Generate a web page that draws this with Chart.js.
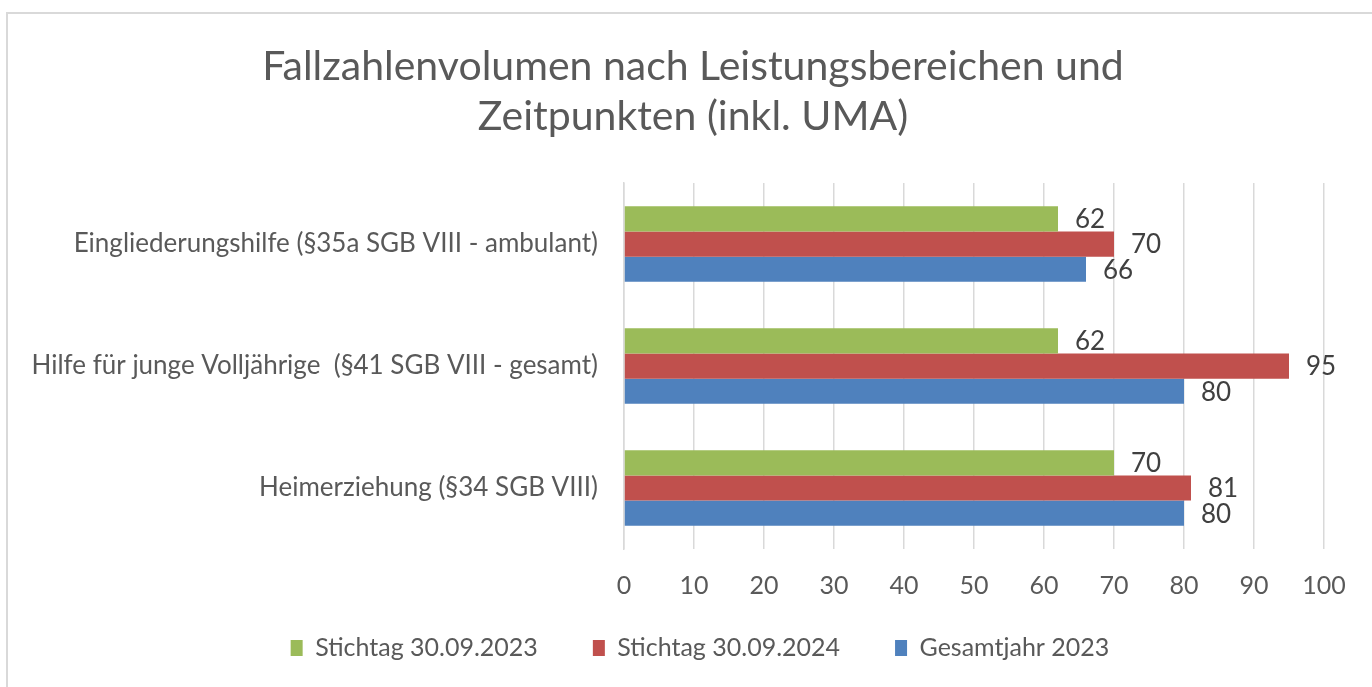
<!DOCTYPE html>
<html>
<head>
<meta charset="utf-8">
<script src="https://cdn.jsdelivr.net/npm/chart.js@4"></script>
<style>
    body { margin: 0; background: #ffffff; overflow: hidden; }
    #frame {
        position: absolute; left: 6px; top: 12px;
        width: 1400px; height: 700px;
        border-left: 2px solid #d9d9d9; border-top: 2px solid #d9d9d9;
    }
    #wrap { position: absolute; left: 0; top: 0; width: 1372px; height: 687px; }
</style>
</head>
<body>
<div id="frame"></div>
<div id="wrap"><canvas id="fallChart"></canvas></div>
<script>
// Fallzahlen je Leistungsbereich
const categories = [
    'Eingliederungshilfe (§35a SGB VIII - ambulant)',
    'Hilfe für junge Volljährige  (§41 SGB VIII - gesamt)',
    'Heimerziehung (§34 SGB VIII)'
];
const stichtag2023 = [62, 62, 70];
const stichtag2024 = [70, 95, 81];
const gesamtjahr2023 = [66, 80, 80];
const seriesNames = ['Stichtag 30.09.2023', 'Stichtag 30.09.2024', 'Gesamtjahr 2023'];
const xTicks = [0, 10, 20, 30, 40, 50, 60, 70, 80, 90, 100];

Chart.defaults.font.family = 'Lato, "Open Sans", sans-serif';
Chart.defaults.color = '#595959';

// draws the value right next to each bar end
const valueLabels = {
    id: 'valueLabels',
    afterDatasetsDraw(chart) {
        const ctx = chart.ctx;
        ctx.save();
        ctx.font = '26px Lato, "Open Sans", sans-serif';
        ctx.fillStyle = '#404040';
        ctx.textAlign = 'left';
        ctx.textBaseline = 'middle';
        chart.data.datasets.forEach((ds, i) => {
            chart.getDatasetMeta(i).data.forEach((bar, j) => {
                ctx.fillText(ds.data[j], bar.x + 17, bar.y + 1);
            });
        });
        ctx.restore();
    }
};

// title and legend are centred on the whole frame, not only on the plot column
const recenterBoxes = {
    id: 'recenterBoxes',
    afterLayout(chart) {
        if (chart.titleBlock) chart.titleBlock.left = 62;
        const lg = chart.legend;
        if (lg) {
            const h = lg.height;
            lg.left = 76;
            lg.top = 580.5;
            lg.bottom = lg.top + h;
        }
    }
};

new Chart(document.getElementById('fallChart'), {
    type: 'bar',
    data: {
        labels: categories,
        datasets: [
            { label: seriesNames[0], data: stichtag2023, backgroundColor: '#9BBB59' },
            { label: seriesNames[1], data: stichtag2024, backgroundColor: '#C0504D' },
            { label: seriesNames[2], data: gesamtjahr2023, backgroundColor: '#4F81BD' }
        ]
    },
    options: {
        indexAxis: 'y',
        responsive: true,
        maintainAspectRatio: false,
        animation: false,
        categoryPercentage: 0.62,
        barPercentage: 1,
        layout: {
            padding: { left: 0, right: 48, top: 0, bottom: 1.5 }
        },
        plugins: {
            title: {
                display: true,
                text: ['Fallzahlenvolumen nach Leistungsbereichen und', 'Zeitpunkten (inkl. UMA)'],
                color: '#595959',
                font: { size: 41, weight: 'normal', lineHeight: 1.22 },
                padding: { top: 42, bottom: 41 }
            },
            legend: {
                position: 'bottom',
                labels: {
                    boxWidth: 12,
                    boxHeight: 16,
                    padding: 55,
                    color: '#595959',
                    font: { size: 25 }
                }
            },
            tooltip: { enabled: false }
        },
        scales: {
            x: {
                min: 0,
                max: 100,
                afterBuildTicks: scale => { scale.ticks = xTicks.map(v => ({ value: v })); },
                afterFit: scale => { scale.height = 46.5; },
                grid: { color: '#d9d9d9', lineWidth: 1.5, drawTicks: false },
                border: { display: false },
                ticks: { padding: 22, color: '#595959', font: { size: 25, lineHeight: 1.2 } }
            },
            y: {
                afterFit: scale => { scale.width = 624; },
                grid: { display: false, drawTicks: false },
                border: { display: true, color: '#d9d9d9', width: 1.5 },
                ticks: { padding: 26, color: '#595959', font: { size: 26 } }
            }
        }
    },
    plugins: [valueLabels, recenterBoxes]
});
</script>
</body>
</html>
